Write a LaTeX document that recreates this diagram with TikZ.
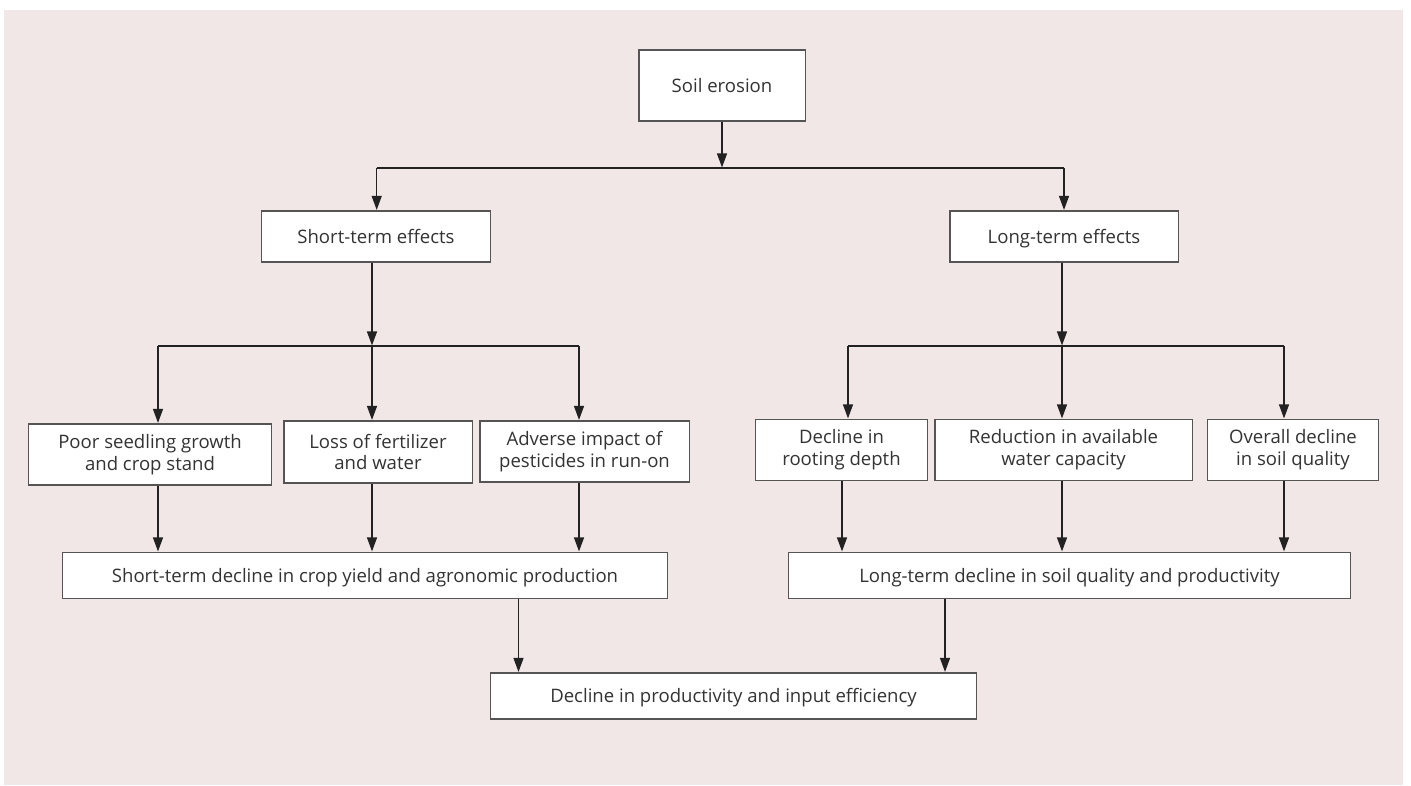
\documentclass[tikz,border=0pt]{standalone}
\usepackage{fontspec}
\setmainfont{Open Sans}
\usepackage{tikz}
\usetikzlibrary{arrows.meta,positioning}
\definecolor{bgPink}{RGB}{240,231,230}
\definecolor{edgeGray}{RGB}{85,85,85}
\definecolor{inkDark}{RGB}{34,34,34}
\definecolor{textGray}{RGB}{51,51,51}
\tikzset{
  box/.style={draw=edgeGray, fill=white, line width=0.75pt, align=center,
              inner sep=3pt, text=textGray, font=\fontsize{13.2}{15.6}\selectfont},
  onebox/.style={box, text height=1.75ex, text depth=0pt},
  link/.style={line width=0.9pt, draw=inkDark},
  arrow/.style={link, -{Triangle[length=0.35cm, width=0.25cm]}, shorten >=0.4pt}
}
\begin{document}
\begin{tikzpicture}[x=0.025cm, y=-0.025cm]
\useasboundingbox (0,0) rectangle (1411,785);
\fill[bgPink] (4,10) rectangle (1403,785);

% top
\node[onebox, minimum width=4.15cm, minimum height=1.775cm] (erosion) at (722,85.5) {Soil erosion};
\node[onebox, minimum width=5.725cm, minimum height=1.275cm] (short) at (376,236.5) {Short-term effects};
\node[onebox, minimum width=5.7cm, minimum height=1.275cm] (long) at (1064,236.5) {Long-term effects};

% effects
\node[box, minimum width=6.05cm, minimum height=1.525cm] (poor) at (150,454.5) {Poor seedling growth\\and crop stand};
\node[box, minimum width=4.7cm, minimum height=1.55cm] (loss) at (378,452) {Loss of fertilizer\\and water};
\node[box, minimum width=5.225cm, minimum height=1.525cm] (adverse) at (584.5,451.5) {Adverse impact of\\pesticides in run-on};
\node[box, minimum width=4.3cm, minimum height=1.525cm] (rooting) at (841.5,450) {Decline in\\rooting depth};
\node[box, minimum width=6.425cm, minimum height=1.525cm] (reduction) at (1063.5,450) {Reduction in available\\water capacity};
\node[box, minimum width=4.275cm, minimum height=1.525cm] (overall) at (1293,450) {Overall decline\\in soil quality};

% declines
\node[onebox, minimum width=15.125cm, minimum height=1.15cm] (stdecline) at (365,575.5) {Short-term decline in crop yield and agronomic production};
\node[onebox, minimum width=14.025cm, minimum height=1.15cm] (ltdecline) at (1069.5,575.5) {Long-term decline in soil quality and productivity};
\node[onebox, minimum width=12.125cm, minimum height=1.15cm] (final) at (733.5,696) {Decline in productivity and input efficiency};

% junctions
\coordinate (t1) at (376.7,168);
\coordinate (t2) at (1064,168);
\coordinate (k1) at (158,346);
\coordinate (k2) at (372,346);
\coordinate (k3) at (579,346);
\coordinate (k4) at (848,346);
\coordinate (k4b) at (842,346);
\coordinate (k5) at (1062,346);
\coordinate (k6) at (1284,346);
\coordinate (f1) at (518.5,640);
\coordinate (f2) at (945,640);

\draw[arrow] (erosion.south) -- (erosion.south |- t1);
\draw[link] (t1) -- (t2);
\draw[arrow] (t1) -- (short.north -| t1);
\draw[arrow] (t2) -- (long.north -| t2);

\draw[arrow] (short.south -| k2) -- (k2);
\draw[arrow] (long.south -| k5) -- (k5);
\draw[link] (k1) -- (k3);
\draw[link] (k4) -- (k6);
\foreach \k/\n in {k1/poor,k2/loss,k3/adverse,k4/rooting,k5/reduction,k6/overall}
  \draw[arrow] (\k) -- (\n.north -| \k);

\foreach \k/\n in {k1/poor,k2/loss,k3/adverse}
  \draw[arrow] (\n.south -| \k) -- (stdecline.north -| \k);
\foreach \k/\n in {k4b/rooting,k5/reduction,k6/overall}
  \draw[arrow] (\n.south -| \k) -- (ltdecline.north -| \k);

\draw[arrow] (stdecline.south -| f1) -- (final.north -| f1);
\draw[arrow] (ltdecline.south -| f2) -- (final.north -| f2);
\end{tikzpicture}
\end{document}
